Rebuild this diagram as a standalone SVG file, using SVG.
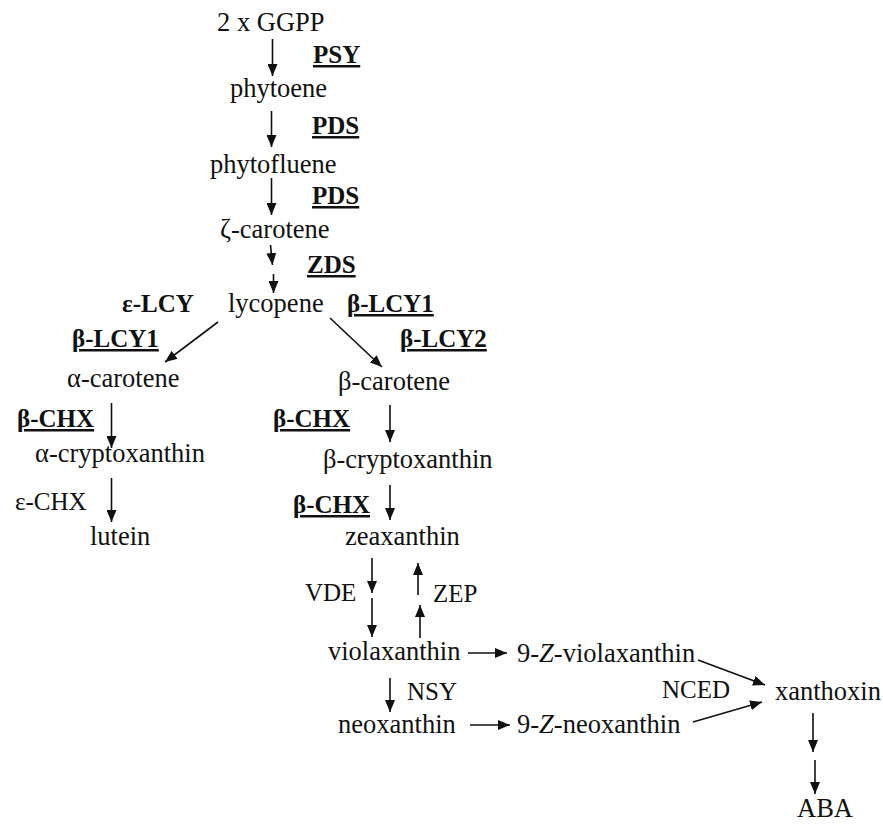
<svg xmlns="http://www.w3.org/2000/svg" width="883" height="825" viewBox="0 0 883 825">
  <style>
    .node { font-family: "Liberation Serif", "Times New Roman", serif; font-size: 26.5px; fill: #111; }
    .enz { font-family: "Liberation Serif", "Times New Roman", serif; font-size: 25px; fill: #111; }
    .b { font-weight: bold; }
    .u { text-decoration: underline; }
    .edge { stroke: #111; stroke-width: 1.6; fill: none; marker-end: url(#head); }
  </style>
  <defs>
    <marker id="head" viewBox="0 0 12 10" refX="12" refY="5" markerWidth="12" markerHeight="10" markerUnits="userSpaceOnUse" orient="auto">
      <path d="M0,0 L12,5 L0,10 z" fill="#111"/>
    </marker>
  </defs>
  <rect width="883" height="825" fill="#fff"/>

  <!-- metabolites -->
  <g id="ggpp"><text class="node" x="217" y="31">2 x GGPP</text></g>
  <g id="phytoene"><text class="node" x="230" y="97">phytoene</text></g>
  <g id="phytofluene"><text class="node" x="210" y="173">phytofluene</text></g>
  <g id="zeta-carotene"><text class="node" x="220" y="238">ζ-carotene</text></g>
  <g id="lycopene"><text class="node" x="228" y="312">lycopene</text></g>
  <g id="alpha-carotene"><text class="node" x="67" y="387">α-carotene</text></g>
  <g id="beta-carotene"><text class="node" x="338" y="390">β-carotene</text></g>
  <g id="alpha-cryptoxanthin"><text class="node" x="35" y="462">α-cryptoxanthin</text></g>
  <g id="beta-cryptoxanthin"><text class="node" x="323" y="468">β-cryptoxanthin</text></g>
  <g id="lutein"><text class="node" x="90" y="545">lutein</text></g>
  <g id="zeaxanthin"><text class="node" x="345" y="545">zeaxanthin</text></g>
  <g id="violaxanthin"><text class="node" x="328" y="660">violaxanthin</text></g>
  <g id="z-violaxanthin"><text class="node" x="517" y="662">9-<tspan font-style="italic">Z</tspan>-violaxanthin</text></g>
  <g id="neoxanthin"><text class="node" x="338" y="733">neoxanthin</text></g>
  <g id="z-neoxanthin"><text class="node" x="517" y="733">9-<tspan font-style="italic">Z</tspan>-neoxanthin</text></g>
  <g id="xanthoxin"><text class="node" x="775" y="700">xanthoxin</text></g>
  <g id="aba"><text class="node" x="797" y="817">ABA</text></g>

  <!-- enzymes -->
  <g id="enzymes">
    <text class="enz b u" x="313" y="63">PSY</text>
    <text class="enz b u" x="312" y="134">PDS</text>
    <text class="enz b u" x="312" y="204">PDS</text>
    <text class="enz b u" x="307" y="273">ZDS</text>
    <text class="enz b" x="122" y="312">ε-LCY</text>
    <text class="enz b u" x="347" y="312">β-LCY1</text>
    <text class="enz b u" x="72" y="347">β-LCY1</text>
    <text class="enz b u" x="400" y="347">β-LCY2</text>
    <text class="enz b u" x="17" y="427">β-CHX</text>
    <text class="enz b u" x="273" y="427">β-CHX</text>
    <text class="enz" x="15" y="510">ε-CHX</text>
    <text class="enz b u" x="293" y="513">β-CHX</text>
    <text class="enz" x="305" y="601">VDE</text>
    <text class="enz" x="433" y="602">ZEP</text>
    <text class="enz" x="407" y="700">NSY</text>
    <text class="enz" x="662" y="698">NCED</text>
  </g>

  <!-- reactions -->
  <g id="connectors">
    <line class="edge" x1="272.5" y1="39" x2="272.5" y2="76"/>
    <line class="edge" x1="271.5" y1="111" x2="271.5" y2="147"/>
    <line class="edge" x1="271.5" y1="178" x2="271.5" y2="215"/>
    <line class="edge" x1="270.5" y1="245" x2="272.5" y2="265"/>
    <line class="edge" x1="273.5" y1="274" x2="273.5" y2="293"/>
    <line class="edge" x1="218" y1="322" x2="165" y2="362"/>
    <line class="edge" x1="330" y1="318" x2="382" y2="367"/>
    <line class="edge" x1="111.5" y1="403" x2="111.5" y2="448"/>
    <line class="edge" x1="111.5" y1="478" x2="111.5" y2="522"/>
    <line class="edge" x1="390" y1="405" x2="390" y2="442"/>
    <line class="edge" x1="390" y1="485" x2="390" y2="520"/>
    <line class="edge" x1="372" y1="558" x2="372" y2="593"/>
    <line class="edge" x1="372" y1="598" x2="372" y2="637"/>
    <line class="edge" x1="418" y1="595" x2="418" y2="563"/>
    <line class="edge" x1="420" y1="638" x2="420" y2="605"/>
    <line class="edge" x1="468" y1="653" x2="507" y2="653"/>
    <line class="edge" x1="390" y1="678" x2="390" y2="712"/>
    <line class="edge" x1="470" y1="725" x2="510" y2="725"/>
    <line class="edge" x1="698" y1="660" x2="765" y2="685"/>
    <line class="edge" x1="693" y1="722" x2="762" y2="702"/>
    <line class="edge" x1="813" y1="713" x2="813" y2="752"/>
    <line class="edge" x1="815" y1="760" x2="815" y2="794"/>
  </g>
</svg>
